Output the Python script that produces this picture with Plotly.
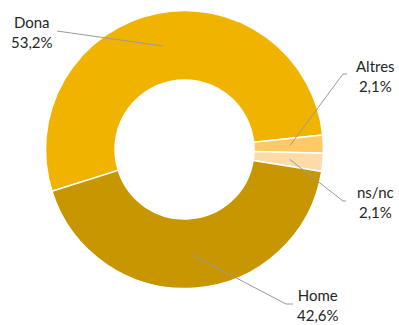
import math
import plotly.graph_objects as go

# Data
categories = ["Dona", "Altres", "ns/nc", "Home"]
values = [53.2, 2.1, 2.1, 42.6]
colors = ["#F0B400", "#FFC966", "#FFDBA8", "#C89600"]

W, H = 399, 325
CX, CY, R = 184.5, 149.5, 139.0   # pixel centre / radius of the donut
ROTATION = 252.5

def px(x):
    return x / W

def py(y):
    return 1 - y / H

fig = go.Figure()
fig.add_trace(go.Pie(
    labels=categories,
    values=values,
    sort=False,
    direction="clockwise",
    rotation=ROTATION,
    hole=0.5,
    marker=dict(colors=colors, line=dict(color="white", width=1.5)),
    textinfo="none",
    hoverinfo="label+percent",
    showlegend=False,
    domain=dict(x=[px(CX - R), px(CX + R)], y=[py(CY + R), py(CY - R)]),
))

# label placement (pixels): label centre, leader elbow, leader end
label_pos = {
    "Dona": (31.5, 32, [(57, 31)]),
    "Altres": (375, 76, [(343, 74), (347, 74)]),
    "ns/nc": (375, 202, [(343, 201), (346, 201)]),
    "Home": (318, 305, [(286, 304), (293, 304)]),
}

total = sum(values)
angle = ROTATION
shapes = []
annotations = []
for cat, val in zip(categories, values):
    span = 360 * val / total
    mid = math.radians(angle + span / 2)
    angle += span
    sx = CX + 0.76 * R * math.sin(mid)
    sy = CY - 0.76 * R * math.cos(mid)
    lx, ly, pts = label_pos[cat]
    path_pts = [(sx, sy)] + pts
    path = "M " + " L ".join(f"{px(x)},{py(y)}" for x, y in path_pts)
    shapes.append(dict(type="path", xref="paper", yref="paper", path=path,
                       line=dict(color="#9A9A9A", width=1)))
    txt = f"{cat}<br>{val:.1f}%".replace(".", ",")
    annotations.append(dict(x=px(lx), y=py(ly), xref="paper", yref="paper",
                            text=txt, showarrow=False, xanchor="center",
                            yanchor="middle", align="center",
                            font=dict(family="Lato", size=15, color="#262626")))

fig.update_layout(
    width=W, height=H,
    margin=dict(l=0, r=0, t=0, b=0),
    paper_bgcolor="white",
    plot_bgcolor="white",
    shapes=shapes,
    annotations=annotations,
)

fig.write_html("out.html",
               config={"displayModeBar": False},
               post_script="document.body.style.margin='0';document.body.style.padding='0';")
